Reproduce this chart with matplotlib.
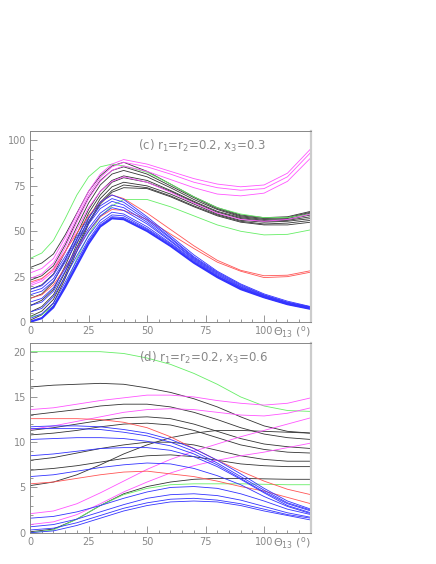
import numpy as np
import matplotlib
matplotlib.use('Agg')
from matplotlib import pyplot as plt
from matplotlib.ticker import MultipleLocator

theta_c = [0, 5, 10, 15, 20, 25, 30, 35, 40, 50, 60, 70, 80, 90, 100, 110, 120]
theta_d = [0, 10, 20, 30, 40, 50, 60, 70, 80, 90, 100, 110, 120]

# panel (c): r1=r2=0.2, x3=0.3
c_magenta = [
    [27, 29.5, 35, 46.5, 59.5, 72, 81.5, 87, 89.5, 87, 83, 79, 76, 74.5, 75.5, 82, 95.5],
    [24, 26.5, 32.5, 44, 57.5, 70, 79.5, 85.5, 88, 85.5, 81.5, 77, 74, 72.6, 73.5, 80, 93.5],
    [21, 23.5, 29.5, 41, 55, 68, 77.5, 83.5, 86, 83, 78.5, 74, 70.5, 69.5, 71, 77.5, 90.5],
    [20, 22.5, 28, 38.5, 51, 63, 72, 77.5, 80, 77, 71.5, 65.5, 60, 56.5, 55.5, 56.5, 59.5],
]
c_black = [
    [30, 32.5, 37.5, 48, 60, 72, 80.5, 86, 88, 83, 76, 69, 63, 59, 57.5, 58, 61],
    [23, 25.5, 31, 42.5, 56, 68.5, 78, 83.5, 85.5, 81.5, 75, 68.5, 62.5, 58.5, 57, 57.5, 60.5],
    [18, 20.5, 26.5, 38.5, 52.5, 65.5, 75.5, 81.5, 83.5, 80, 74, 67.5, 62, 58, 56.5, 57, 60],
    [13, 15.5, 22, 34, 48.5, 62, 72, 78, 80.5, 78, 72.5, 66.5, 61, 57.5, 56, 56.5, 59],
    [9, 12, 18, 31, 45.5, 60, 70, 77, 79.5, 77, 72, 66, 60.5, 57, 55.5, 56, 58],
    [5.5, 8.5, 15, 27.5, 43, 57, 68, 74.5, 77, 75, 70.5, 65, 59.5, 56, 55, 55.5, 57],
    [3, 6, 12.5, 25.5, 41, 55, 66, 72.5, 75.5, 74, 69.5, 64, 59, 55.5, 54, 54.5, 56],
    [1, 4, 10.5, 24, 39, 54, 65, 71.5, 74, 73.5, 69, 63.5, 58.5, 55, 53.5, 53.5, 55],
]
c_green = [
    [35, 38, 45, 57, 70, 80, 85.5, 87, 86, 82.5, 76, 69, 63, 59.5, 57.5, 57.5, 59.5],
    [3, 4, 9, 20, 35, 48, 58, 64, 67.5, 67.5, 63.5, 58.5, 53.5, 50, 48, 48.3, 50.8],
]
c_red = [
    [22, 24, 29, 39, 49, 58.5, 66, 70, 68, 60, 51, 42, 34, 28.5, 25.5, 25.8, 28.3],
    [13, 15, 20.5, 30, 40.5, 50, 58, 62, 61.5, 56.5, 48.5, 40.5, 33, 28, 24.5, 25, 27.5],
]
c_blue = [
    [18, 20, 26, 36, 47, 57.5, 66, 70, 67.5, 58, 47.5, 37, 28, 21, 15.5, 11.5, 8.5],
    [16.5, 18.5, 24, 34.5, 45.5, 55.5, 64, 68, 66, 57, 46.5, 36, 27.5, 20.5, 15, 11, 8.3],
    [15, 17, 22.5, 33, 44, 54, 62.5, 66.5, 64.5, 56, 46, 35.5, 27, 20, 14.8, 10.8, 8.1],
    [11, 13, 19, 29.5, 41, 51.5, 60, 64.5, 63, 55, 45, 35, 26.5, 19.5, 14.5, 10.5, 7.9],
    [9, 11, 17, 28, 39, 50, 58.5, 63, 61.5, 54, 44.5, 34.5, 26, 19.2, 14.2, 10.3, 7.7],
    [5.5, 7.5, 14, 25, 36.5, 47.5, 56, 60.5, 59.5, 52.5, 43.5, 34, 25.5, 18.8, 14, 10.1, 7.5],
    [2, 4.5, 10.5, 22, 34, 45.5, 54.5, 59, 58.5, 51.5, 43, 33.5, 25.2, 18.6, 13.8, 10, 7.4],
    [0.5, 2.5, 9, 20.5, 32.5, 44.5, 53.5, 58, 57.5, 51, 42.5, 33, 25, 18.4, 13.7, 9.9, 7.3],
    [0, 2.2, 8.5, 20, 32, 44, 53, 57.5, 57, 50.5, 42, 32.8, 24.8, 18.2, 13.6, 9.8, 7.2],
    [0, 2, 8, 19, 31, 43, 52.5, 57, 56.5, 50, 41.8, 32.5, 24.6, 18, 13.5, 9.7, 7.1],
]

# panel (d): r1=r2=0.2, x3=0.6
d_green = [
    [20.0, 20.0, 20.0, 20.0, 19.8, 19.3, 18.6, 17.6, 16.4, 15.0, 14.0, 13.5, 13.4],
    [0.0, 0.3, 1.5, 3.0, 4.2, 4.9, 5.3, 5.4, 5.4, 5.4, 5.35, 5.3, 5.3],
]
d_black = [
    [16.1, 16.3, 16.4, 16.5, 16.4, 16.0, 15.5, 14.8, 13.9, 12.8, 11.8, 11.2, 11.0],
    [13.0, 13.3, 13.6, 14.0, 14.2, 14.2, 13.9, 13.3, 12.5, 11.6, 10.9, 10.5, 10.3],
    [11.3, 11.6, 12.0, 12.4, 12.7, 12.8, 12.6, 12.0, 11.2, 10.4, 9.8, 9.5, 9.3],
    [10.8, 11.0, 11.3, 11.7, 12.0, 12.1, 11.9, 11.3, 10.5, 9.7, 9.2, 8.9, 8.8],
    [8.0, 8.3, 8.8, 9.3, 9.7, 10.0, 10.0, 9.7, 9.1, 8.5, 8.1, 7.9, 7.9],
    [6.9, 7.1, 7.4, 7.8, 8.2, 8.5, 8.6, 8.4, 8.0, 7.6, 7.4, 7.3, 7.3],
    [5.2, 5.6, 6.4, 7.5, 8.7, 9.7, 10.5, 11.0, 11.3, 11.3, 11.2, 11.1, 11.0],
    [0.1, 0.4, 1.5, 3.0, 4.3, 5.1, 5.6, 5.9, 6.0, 6.0, 5.95, 5.9, 5.9],
]
d_magenta = [
    [13.6, 13.8, 14.2, 14.6, 14.9, 15.2, 15.2, 15.0, 14.6, 14.3, 14.1, 14.3, 14.9],
    [11.4, 11.8, 12.3, 12.8, 13.3, 13.6, 13.7, 13.6, 13.3, 13.0, 12.9, 13.2, 13.8],
    [2.1, 2.4, 3.2, 4.4, 5.7, 7.0, 8.1, 9.0, 9.8, 10.6, 11.3, 12.0, 12.7],
    [0.9, 1.2, 2.0, 3.2, 4.5, 5.6, 6.6, 7.4, 8.0, 8.5, 8.9, 9.4, 9.9],
]
d_red = [
    [12.6, 12.6, 12.6, 12.5, 12.2, 11.6, 10.6, 9.3, 8.0, 6.8, 5.7, 4.8, 4.2],
    [5.4, 5.6, 6.0, 6.4, 6.7, 6.8, 6.5, 6.2, 5.7, 5.1, 4.6, 3.9, 3.2],
]
d_blue = [
    [11.7, 11.8, 11.8, 11.7, 11.4, 11.0, 10.3, 9.3, 8.0, 6.5, 4.9, 3.5, 2.6],
    [11.5, 11.5, 11.5, 11.4, 11.1, 10.7, 10.0, 9.0, 7.7, 6.2, 4.7, 3.3, 2.5],
    [10.3, 10.4, 10.5, 10.5, 10.4, 10.1, 9.6, 8.7, 7.5, 6.0, 4.5, 3.2, 2.4],
    [8.5, 8.7, 9.0, 9.3, 9.4, 9.4, 9.1, 8.4, 7.3, 5.9, 4.4, 3.0, 2.2],
    [6.2, 6.4, 6.8, 7.2, 7.5, 7.7, 7.6, 7.1, 6.3, 5.3, 4.0, 2.9, 2.1],
    [1.6, 1.8, 2.3, 3.0, 3.8, 4.5, 5.0, 5.1, 4.9, 4.3, 3.5, 2.6, 2.0],
    [0.65, 0.9, 1.5, 2.3, 3.1, 3.8, 4.2, 4.3, 4.1, 3.6, 2.9, 2.2, 1.7],
    [0.3, 0.5, 1.1, 1.9, 2.7, 3.3, 3.7, 3.8, 3.6, 3.2, 2.6, 2.0, 1.6],
    [0.0, 0.2, 0.8, 1.6, 2.4, 3.0, 3.4, 3.5, 3.4, 3.0, 2.4, 1.9, 1.4],
]

col = {'black': '#333333', 'blue': '#3333ff', 'green': '#66ee66',
       'magenta': '#ff55ff', 'red': '#ff5555'}
gray = '#888888'

fig = plt.figure(figsize=(4.36, 5.64), dpi=100)
ax1 = fig.add_axes([0.069, 0.429, 0.644, 0.338])
ax2 = fig.add_axes([0.069, 0.0555, 0.644, 0.337])


def style(ax, ymax, ymajor, yminor):
    ax.set_xlim(0, 120)
    ax.set_ylim(0, ymax)
    ax.set_xticks([0, 25, 50, 75, 100])
    ax.xaxis.set_minor_locator(MultipleLocator(5))
    ax.yaxis.set_major_locator(MultipleLocator(ymajor))
    ax.yaxis.set_minor_locator(MultipleLocator(yminor))
    ax.tick_params(which='both', direction='in', colors=gray, labelsize=7,
                   top=False, right=False)
    ax.tick_params(which='major', length=5, width=0.6, pad=3)
    ax.tick_params(which='minor', length=2.5, width=0.6)
    for s in ['left', 'bottom', 'top']:
        ax.spines[s].set_color(gray)
        ax.spines[s].set_linewidth(0.7)
    ax.spines['right'].set_color('#cccccc')
    ax.spines['right'].set_linewidth(1.6)
    ax.text(0.865, -0.012, r'$\Theta_{13}$ ($^{\rm o}$)', transform=ax.transAxes,
            color=gray, fontsize=8, va='top', ha='left')


groups1 = [('black', c_black), ('green', c_green), ('magenta', c_magenta),
           ('red', c_red), ('blue', c_blue)]
for name, curves in groups1:
    for i, ys in enumerate(curves):
        lw = 1.2 if (name == 'blue' and i == len(curves) - 1) else 0.6
        ax1.plot(theta_c, ys, color=col[name], lw=lw)

groups2 = [('black', d_black), ('green', d_green), ('magenta', d_magenta),
           ('red', d_red), ('blue', d_blue)]
for name, curves in groups2:
    for ys in curves:
        ax2.plot(theta_d, ys, color=col[name], lw=0.6)

style(ax1, 105, 25, 5)
style(ax2, 21, 5, 1)

ax1.text(0.384, 0.925, r'(c) r$_1$=r$_2$=0.2, x$_3$=0.3', transform=ax1.transAxes,
         color=gray, fontsize=8.5, va='center')
ax2.text(0.388, 0.92, r'(d) r$_1$=r$_2$=0.2, x$_3$=0.6', transform=ax2.transAxes,
         color=gray, fontsize=8.5, va='center')

plt.savefig('out.png', dpi=100)
